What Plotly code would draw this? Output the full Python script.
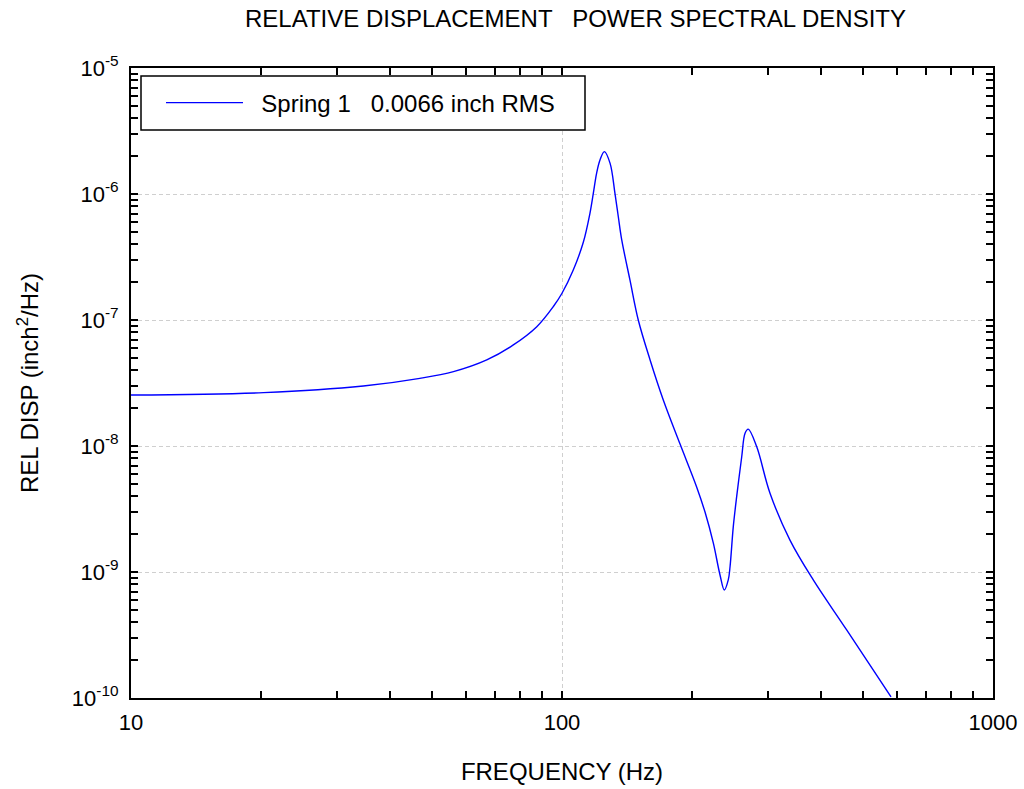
import plotly.graph_objects as go

# Data
freq_hz = [10, 20.3, 34.6, 46.8, 56.0, 66.9, 77.1, 87.4, 95.5, 100, 106.2, 112.1,
           116.1, 118.2, 120.3, 122.5, 125.4, 129.3, 132.7, 135.1, 137.6, 143.8,
           150.3, 160.1, 171.8, 187.8, 205.3, 214.7, 224.4, 232.6, 238.0, 243.1, 245.4,
           249.7, 254.3, 261.2, 265.9, 270.5, 282.9, 303.8, 338, 382.8, 457.6, 579.9]
psd = [2.54e-8, 2.65e-8, 2.99e-8, 3.44e-8, 3.89e-8, 4.82e-8, 6.34e-8, 8.85e-8,
       1.28e-7, 1.63e-7, 2.49e-7, 4.16e-7, 7.03e-7, 1.01e-6, 1.46e-6, 1.86e-6,
       2.17e-6, 1.75e-6, 1.01e-6, 6.6e-7, 4.32e-7, 2.07e-7, 1.0e-7, 4.82e-8,
       2.32e-8, 1.04e-8, 4.73e-9, 2.99e-9, 1.70e-9, 9.47e-10, 7.2e-10, 8.65e-10, 1.10e-9,
       2.29e-9, 3.98e-9, 8.22e-9, 1.26e-8, 1.36e-8, 9.89e-9, 4.22e-9, 1.79e-9,
       8.65e-10, 3.47e-10, 1.02e-10]
series_name = "\u00a0\u00a0Spring 1   0.0066 inch RMS"

x_tickvals = [10, 100, 1000]
x_ticktext = ["10", "100", "1000"]
y_tickvals = [1e-10, 1e-9, 1e-8, 1e-7, 1e-6, 1e-5]
y_ticktext = ["10<sup>-10</sup>", "10<sup>-9</sup>", "10<sup>-8</sup>",
              "10<sup>-7</sup>", "10<sup>-6</sup>", "10<sup>-5</sup>"]

x_minor = [m * d for d in x_tickvals[:-1] for m in range(2, 10)]
y_minor = [m * d for d in y_tickvals[:-1] for m in range(2, 10)]

FONT = "Liberation Sans, Arial, sans-serif"

fig = go.Figure()
fig.add_trace(go.Scatter(
    x=freq_hz, y=psd, mode="lines", name=series_name,
    line=dict(color="#0000ff", width=1.4, shape="spline", smoothing=1.0),
))

def axis_style(minor_vals):
    return dict(
        type="log", automargin=False,
        showline=True, linecolor="black", linewidth=2, mirror="ticks",
        ticks="inside", ticklen=7, tickwidth=1.5, tickcolor="black",
        showgrid=True, gridcolor="#cfcfcf", gridwidth=1, griddash="4px,3px",
        zeroline=False,
        tickfont=dict(family=FONT, size=22, color="black"),
        minor=dict(tickvals=minor_vals, ticks="inside", ticklen=7, tickwidth=1.5,
                   tickcolor="black", showgrid=False),
    )

fig.update_xaxes(
    **axis_style(x_minor),
    range=[1, 3],
    tickvals=x_tickvals, ticktext=x_ticktext,
    ticklabelstandoff=4,
    title=dict(text="FREQUENCY (Hz)", font=dict(family=FONT, size=24, color="black"), standoff=29),
)
fig.update_yaxes(
    **axis_style(y_minor),
    range=[-10, -5],
    tickvals=y_tickvals, ticktext=y_ticktext,
    ticklabelstandoff=6,
    title=dict(text="REL DISP (inch<sup>2</sup>/Hz)", font=dict(family=FONT, size=24, color="black"), standoff=26),
)

# legend frame (decoration around the legend entry)
fig.add_shape(type="rect", xref="paper", yref="paper",
              x0=(141 - 131) / 862, x1=(585 - 131) / 862,
              y0=1 - (130 - 68) / 630, y1=1 - (76 - 68) / 630,
              line=dict(color="black", width=1.5), fillcolor="white", layer="above")

fig.update_layout(
    width=1024, height=789,
    margin=dict(l=131, r=31, t=68, b=91),
    paper_bgcolor="white", plot_bgcolor="white",
    title=dict(text="RELATIVE DISPLACEMENT   POWER SPECTRAL DENSITY",
               x=0.562, xanchor="center", y=0.977, yanchor="middle",
               font=dict(family=FONT, size=24, color="black")),
    showlegend=True,
    legend=dict(x=(161 - 131) / 862, y=1 - (103 - 68) / 630, xanchor="left", yanchor="middle",
                bgcolor="rgba(0,0,0,0)", borderwidth=0,
                font=dict(family=FONT, size=24, color="black"),
                itemwidth=77),
)

fig.write_html("out.html")
